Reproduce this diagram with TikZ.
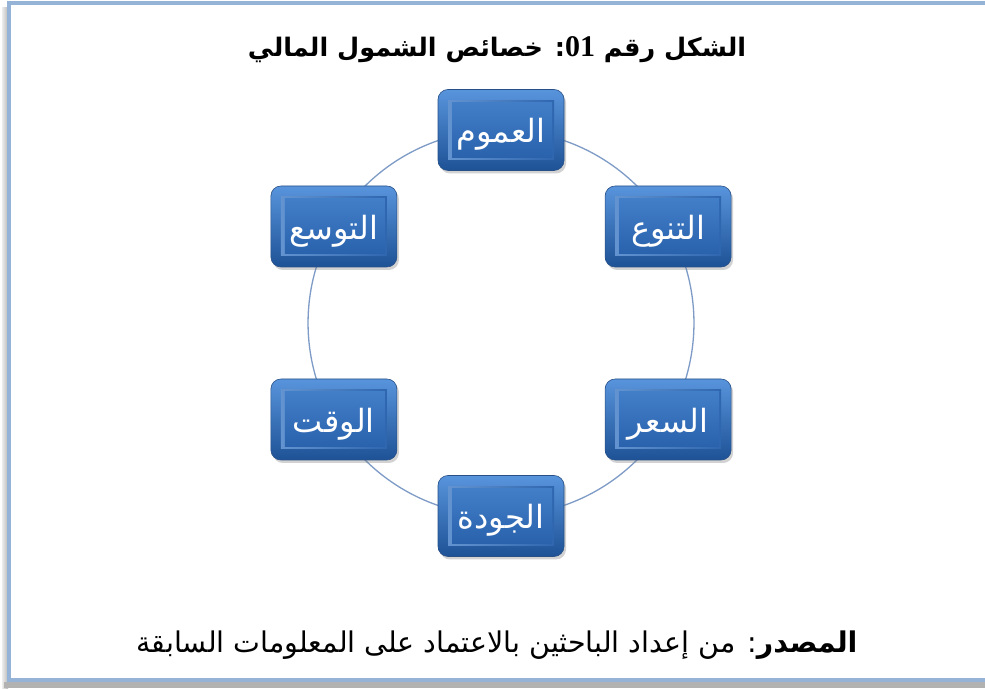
\documentclass[tikz,border=0pt]{standalone}
\usepackage{fontspec}
\usetikzlibrary{shadows,backgrounds}
\TeXXeTstate=1
\newfontfamily\arabicfont[Script=Arabic]{DejaVu Sans}
\newfontfamily\latinserif{Liberation Serif}
\definecolor{framebl}{RGB}{149,179,215}
\definecolor{ringcol}{RGB}{125,155,198}
\definecolor{boxtop}{RGB}{88,148,220}
\definecolor{boxbot}{RGB}{30,82,150}
\definecolor{boxedge}{RGB}{40,80,135}
\definecolor{intop}{RGB}{66,126,200}
\definecolor{inbot}{RGB}{42,98,172}
\newcommand{\boxtxt}[1]{\beginR #1\endR}
\tikzset{
  box/.style={rounded corners=10pt, minimum width=126pt, minimum height=81pt,
    top color=boxtop, bottom color=boxbot, draw=boxedge, line width=0.6pt,
    text=white, font=\arabicfont\fontsize{32}{34}\selectfont, inner sep=0pt,
    text height=26pt, text depth=0pt,
    drop shadow={shadow xshift=2pt, shadow yshift=-3pt, opacity=0.35},
    path picture={\fill[sharp corners, left color=intop!80!white, right color=inbot]
      ([shift={(10pt,-11pt)}]path picture bounding box.north west) rectangle
      ([shift={(-10pt,11pt)}]path picture bounding box.south east);
      \fill[sharp corners, top color=intop, bottom color=inbot]
      ([shift={(14pt,-13pt)}]path picture bounding box.north west) rectangle
      ([shift={(-12pt,13pt)}]path picture bounding box.south east);}},
  ring/.style={draw=ringcol, line width=1.3pt},
  lbl/.style={text=black, inner sep=0pt}
}
\begin{document}
\begin{tikzpicture}[x=1pt,y=1pt]
\useasboundingbox (0,0) rectangle (985,688);
\clip (0,0) rectangle (985,688);
% nodes
\node[box] (n1) at (501,558) {\boxtxt{العموم}};
\node[box] (n2) at (668.1,461.5) {\boxtxt{التنوع}};
\node[box] (n3) at (668.1,268.5) {\boxtxt{السعر}};
\node[box] (n4) at (501,172) {\boxtxt{الجودة}};
\node[box] (n5) at (333.9,268.5) {\boxtxt{الوقت}};
\node[box] (n6) at (333.9,461.5) {\boxtxt{التوسع}};
\node[lbl] (title) at (497,638) {\arabicfont\bfseries\fontsize{25.5}{28}\selectfont\beginR الشكل رقم \beginL{\latinserif\bfseries\fontsize{30}{30}\selectfont 01}\endL: خصائص الشمول المالي\endR};
\node[lbl] (src) at (497,43) {\arabicfont\fontsize{28.5}{30}\selectfont\beginR{\bfseries المصدر}: من إعداد الباحثين بالاعتماد على المعلومات السابقة\endR};
\begin{scope}[on background layer]
  \fill[left color=gray!15, right color=gray!55] (2,0) rectangle (8,680);
  \fill[gray!60] (4,0) rectangle (995,6);
  \filldraw[fill=white, draw=framebl, line width=4.5pt] (9,685) rectangle (995,8);
  \draw[ring] (n1.center) arc[start angle=90, end angle=30, radius=193pt];
  \draw[ring] (n2.center) arc[start angle=30, end angle=-30, radius=193pt];
  \draw[ring] (n3.center) arc[start angle=-30, end angle=-90, radius=193pt];
  \draw[ring] (n4.center) arc[start angle=-90, end angle=-150, radius=193pt];
  \draw[ring] (n5.center) arc[start angle=-150, end angle=-210, radius=193pt];
  \draw[ring] (n6.center) arc[start angle=150, end angle=90, radius=193pt];
\end{scope}
\end{tikzpicture}
\end{document}
